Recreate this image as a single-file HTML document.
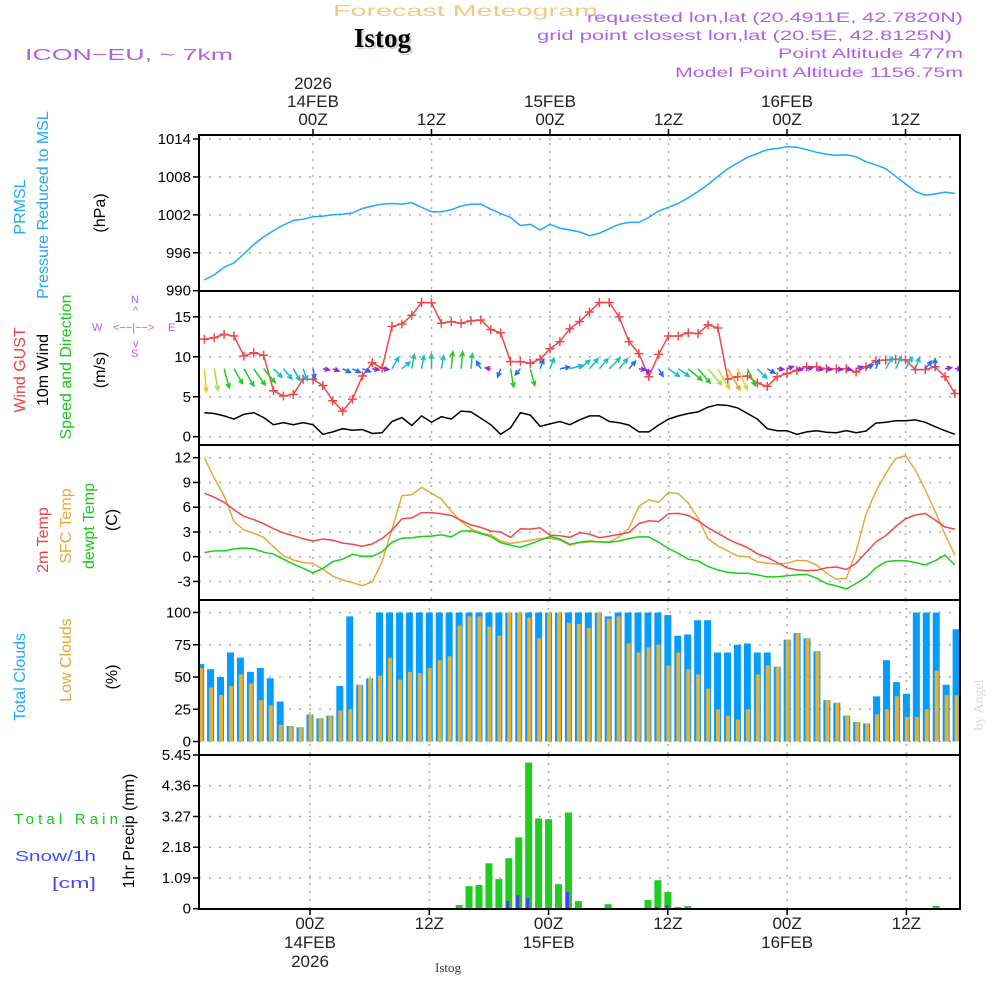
<!DOCTYPE html>
<html><head><meta charset="utf-8"><style>
html,body{margin:0;padding:0;background:#fff;width:1000px;height:1000px;overflow:hidden}
svg{display:block}
text{font-family:"Liberation Sans","DejaVu Sans",sans-serif}
</style></head><body>
<svg id="chart" width="1000" height="1000" viewBox="0 0 1000 1000" xmlns="http://www.w3.org/2000/svg">
<g id="hdr">
<text x="333" y="16" font-size="16" fill="#f5c880" textLength="265" lengthAdjust="spacingAndGlyphs">Forecast Meteogram</text>
<text x="356" y="49" font-size="27" font-weight="bold" fill="#c8dcc8" style="font-family:'Liberation Serif',serif">Istog</text>
<text x="354" y="47" font-size="27" font-weight="bold" fill="#000" style="font-family:'Liberation Serif',serif">Istog</text>
<text x="25" y="60" font-size="16" fill="#b060e8" textLength="208" lengthAdjust="spacingAndGlyphs">ICON−EU, ~ 7km</text>
<text x="587" y="22" font-size="14" fill="#b060e8" textLength="376" lengthAdjust="spacingAndGlyphs">requested lon,lat (20.4911E, 42.7820N)</text>
<text x="537" y="40" font-size="14" fill="#b060e8" textLength="415" lengthAdjust="spacingAndGlyphs">grid point closest lon,lat (20.5E, 42.8125N)</text>
<text x="778" y="58" font-size="14" fill="#b060e8" textLength="185" lengthAdjust="spacingAndGlyphs">Point Altitude 477m</text>
<text x="675" y="77" font-size="14" fill="#b060e8" textLength="288" lengthAdjust="spacingAndGlyphs">Model Point Altitude 1156.75m</text>
</g>
<g id="labels" font-size="16">
<text transform="translate(25,207) rotate(-90)" text-anchor="middle" fill="#1ea8ff">PRMSL</text>
<text transform="translate(48,205) rotate(-90)" text-anchor="middle" fill="#1ea8ff">Pressure Reduced to MSL</text>
<text transform="translate(105,213) rotate(-90)" text-anchor="middle" fill="#000">(hPa)</text>
<text transform="translate(25,370) rotate(-90)" text-anchor="middle" fill="#f04040">Wind GUST</text>
<text transform="translate(48,370) rotate(-90)" text-anchor="middle" fill="#000">10m Wind</text>
<text transform="translate(71,367) rotate(-90)" text-anchor="middle" fill="#18c818">Speed and Direction</text>
<text transform="translate(105,370) rotate(-90)" text-anchor="middle" fill="#000">(m/s)</text>
<g font-size="11" fill="#b060e8">
<text x="92" y="331">W</text><text x="113" y="331">&lt;−−|−−&gt;</text><text x="168" y="331">E</text>
<text x="131" y="303">N</text><text x="133" y="314">^</text><text x="133" y="347">v</text><text x="131" y="357">S</text>
</g>
<text transform="translate(48,540) rotate(-90)" text-anchor="middle" fill="#f04040">2m Temp</text>
<text transform="translate(71,526) rotate(-90)" text-anchor="middle" fill="#e8a838">SFC Temp</text>
<text transform="translate(94,526) rotate(-90)" text-anchor="middle" fill="#18c818">dewpt Temp</text>
<text transform="translate(117,520) rotate(-90)" text-anchor="middle" fill="#000">(C)</text>
<text transform="translate(25,677) rotate(-90)" text-anchor="middle" fill="#1ea8ff">Total Clouds</text>
<text transform="translate(71,660) rotate(-90)" text-anchor="middle" fill="#e8a838">Low Clouds</text>
<text transform="translate(117,677) rotate(-90)" text-anchor="middle" fill="#000">(%)</text>
<text transform="translate(983,705) rotate(-90)" text-anchor="middle" font-size="14" fill="#d8d8d8" style="font-family:'Liberation Serif',serif">by Angel</text>
<text x="14" y="824" font-size="15" fill="#18c818" textLength="104" lengthAdjust="spacing">Total   Rain</text>
<text x="15" y="861" font-size="15" fill="#4848ff" textLength="81" lengthAdjust="spacingAndGlyphs">Snow/1h</text>
<text x="52" y="888" font-size="15" fill="#4848ff" textLength="44" lengthAdjust="spacingAndGlyphs">[cm]</text>
<text transform="translate(134,831) rotate(-90)" text-anchor="middle" fill="#000">1hr Precip (mm)</text>
<text x="448" y="972" font-size="13" fill="#333" text-anchor="middle" style="font-family:'Liberation Serif',serif">Istog</text>
</g>
<g id="grid"></g>
<g id="marks"></g>
<g id="frames"></g>
<g id="ticks" font-size="15"></g>
</svg>
<script>
// ---- data ----
const pressure = [991.7,992.5,993.7,994.4,995.8,997.3,998.5,999.5,1000.4,1001.1,1001.3,1001.7,1001.8,1002.0,1002.1,1002.3,1003.0,1003.4,1003.7,1003.8,1003.7,1003.9,1003.2,1002.5,1002.5,1002.8,1003.4,1003.7,1003.7,1002.9,1002.2,1001.6,1000.3,1000.5,999.6,1000.5,999.9,999.6,999.3,998.7,999.1,999.8,1000.5,1000.8,1000.8,1001.6,1002.6,1003.2,1003.8,1004.7,1005.7,1006.8,1008.1,1009.3,1010.2,1011.1,1011.7,1012.3,1012.5,1012.8,1012.7,1012.3,1011.9,1011.6,1011.4,1011.5,1011.2,1010.4,1009.9,1009.3,1008.1,1006.9,1005.7,1005.1,1005.3,1005.6,1005.4];
const gust = [12.2,12.4,12.8,12.6,10.1,10.5,10.2,5.75,5.1,5.3,7.2,7.2,6.4,4.5,3.2,4.7,7.6,9.25,8.6,13.8,14.1,15.2,16.8,16.75,14.2,14.4,14.2,14.5,14.6,13.4,13.0,9.4,9.4,9.2,9.7,11.0,11.9,13.5,14.4,15.6,16.8,16.8,15.0,11.9,10.4,7.5,10.3,12.6,12.6,13.0,12.9,14.0,13.6,7.2,7.5,7.6,6.7,6.3,7.5,7.9,8.3,8.75,8.75,8.5,8.5,8.5,8.1,8.75,9.5,9.6,9.7,9.6,8.4,8.4,8.75,7.5,5.4];
const wind10 = [3.0,2.9,2.6,2.2,2.8,3.0,2.4,1.5,1.75,1.5,1.75,1.5,0.3,0.6,1.0,0.8,0.9,0.4,0.5,1.9,2.4,1.4,2.6,1.8,2.5,2.2,3.2,3.1,2.3,1.5,0.3,1.1,3.0,2.7,1.3,1.6,1.9,1.5,2.1,2.6,2.6,1.9,1.75,1.45,0.6,0.6,1.45,2.2,2.6,2.9,3.1,3.7,4.0,3.9,3.6,2.9,2.2,1.0,0.75,0.75,0.3,0.6,0.75,0.55,0.5,0.75,0.5,0.7,1.7,1.8,2.0,2.0,2.1,1.8,1.25,0.75,0.3];
const windDir = [175,170,165,150,150,145,140,135,140,150,160,170,100,110,115,115,110,100,95,30,50,10,10,0,10,5,5,5,330,280,200,170,220,165,20,20,80,75,50,40,40,45,40,40,100,200,150,125,125,130,140,140,150,150,155,155,135,120,95,70,100,80,100,100,100,100,70,60,20,30,25,30,20,40,0,80,90];
const windSpd = [3.5,3.3,3.0,2.6,3.0,3.0,2.7,1.8,2.0,2.0,1.8,1.5,1.0,1.0,1.3,1.3,1.3,1.0,1.0,2.0,1.6,2.2,2.0,2.2,2.0,2.6,2.6,2.3,1.3,0.8,1.3,2.8,1.2,2.6,1.5,1.7,1.5,2.0,2.0,2.0,2.0,2.3,2.0,1.5,1.0,0.8,1.3,2.0,2.0,2.7,2.8,3.2,3.5,3.7,3.5,2.8,2.0,1.3,1.0,1.0,0.9,0.9,0.9,0.8,0.9,0.8,1.0,1.2,1.5,2.0,2.0,2.0,1.8,1.5,1.5,1.0,1.0];
const temp2m = [7.7,7.2,6.6,5.7,4.9,4.5,4.0,3.4,2.9,2.55,2.2,1.9,2.15,2.0,1.65,1.5,1.25,1.55,2.2,3.2,4.6,4.7,5.35,5.35,5.2,5.0,4.4,3.85,3.55,3.1,3.0,2.35,3.4,3.35,3.5,2.6,2.55,2.35,2.9,2.75,2.3,2.5,2.7,2.95,4.0,4.35,4.25,5.2,5.25,5.0,4.35,3.5,2.85,2.15,1.6,1.1,0.35,-0.1,-0.7,-1.35,-1.6,-1.7,-1.65,-1.35,-1.25,-1.55,-0.8,0.5,1.8,2.55,3.65,4.6,5.05,5.25,4.45,3.6,3.35];
const tempSfc = [12.0,9.5,7.4,4.25,3.25,2.85,2.35,1.2,0.1,-0.4,-0.7,-0.8,-1.5,-2.35,-2.85,-3.15,-3.5,-3.05,-0.6,3.35,7.4,7.5,8.4,7.7,7.0,5.5,4.25,3.4,2.85,2.65,1.9,1.6,1.8,2.0,2.2,2.25,2.0,1.4,1.7,1.8,1.8,1.8,2.4,3.45,6.1,6.9,6.6,7.8,7.65,6.5,4.65,2.2,1.3,0.7,0.1,0,-0.6,-0.8,-0.9,-0.8,-0.45,-0.5,-1.0,-2.0,-2.75,-2.6,0.6,5.15,7.9,10.1,11.9,12.25,10.5,8.1,5.5,2.7,0.2];
const dewpt = [0.5,0.7,0.7,0.95,1.05,0.95,0.55,0.3,-0.3,-0.9,-1.4,-1.95,-1.4,-0.6,-0.3,0.3,0.05,0.05,0.6,1.75,2.25,2.3,2.45,2.5,2.65,2.4,3.1,3.15,2.8,2.45,1.7,1.4,1.15,1.55,2.0,2.45,2.15,1.5,1.75,1.9,1.8,1.75,1.9,2.2,2.4,2.4,1.75,1.0,0.4,-0.3,-0.5,-1.2,-1.6,-1.9,-2.0,-2.0,-2.2,-2.45,-2.45,-2.3,-2.2,-2.15,-2.6,-3.25,-3.55,-3.9,-3.25,-2.5,-1.35,-0.6,-0.5,-0.5,-0.7,-1.0,-0.5,0.2,-1.0];
const cloudTotal = [
  60,56,50,69,65,54,57,49,31,12,11,21,
  18,20,43,97,44,49,
  100,100,100,100,100,100,100,100,100,100,100,
  100,100,100,100,100,100,100,100,100,100,100,
  100,97,100,100,100,100,100,98,82,83,94,94,69,69,75,76,69,69,58,79,84,80,70,32,30,20,15,14,35,63,46,37,100,100,100,44,87];
const cloudLow = [57,42,36,43,52,45,32,28,13,12,11,21,18,20,24,25,44,49,51,65,48,54,53,57,63,66,90,97,97,89,82,100,100,96,80,100,100,92,91,88,100,95,97,76,69,73,75,59,69,56,52,41,25,20,17,25,52,59,58,79,84,80,70,32,30,20,15,14,21,25,35,19,19,25,55,36,36];
const precipHours = [15,16,17,18,19,20,21,22,23,24,25,26,27,30,34,35,36,37,38,63];
const rain = [0.13,0.80,0.84,1.61,1.05,1.79,2.53,5.18,3.20,3.17,0.87,3.41,0.27,0.16,0.31,1.01,0.59,0.06,0.09,0.10];
const snow = [0,0,0,0,0,0.27,0.48,0.38,0,0,0,0.59,0,0,0,0.06,0.13,0,0.02,0];
const pTicks = [1014,1008,1002,996,990];
const wTicks = [15,10,5,0];
const tTicks = [12,9,6,3,0,-3];
const cTicks = [100,75,50,25,0];
const rTicks = ["5.45","4.36","3.27","2.18","1.09","0"];
const startHour = -11;

// ---- axes ----
const L = 199, R = 960;
const Xu = h => 313 + 9.875 * h;
const Xl = h => 310 + 9.94 * h;
const Yp = v => 139 + (1014 - v) * 6.32;
const Yw = v => 436.7 - 7.99 * v;
const Yt = v => 556.7 - 8.25 * v;
const Yc = v => 741.5 - 1.29 * v;
const Yr = v => 908.7 - 28.2 * v;
const panels = [[135,291],[291,445],[445,600],[600,755],[755,909]];
const NS = "http://www.w3.org/2000/svg";
function mk(tag, attrs, parent) {
  const e = document.createElementNS(NS, tag);
  for (const k in attrs) e.setAttribute(k, attrs[k]);
  parent.appendChild(e);
  return e;
}
const grid = document.getElementById('grid');
const marks = document.getElementById('marks');
const frames = document.getElementById('frames');
const ticks = document.getElementById('ticks');
const clip = mk('clipPath', {id: 'plotclip'}, document.getElementById('chart'));
mk('rect', {x: L, y: 135, width: R - L, height: 774}, clip);
marks.setAttribute('clip-path', 'url(#plotclip)');

function hgrid(y) {
  const l = mk('line', {x1: L, x2: R, y1: y, y2: y, stroke: '#aaa', 'stroke-width': 1.5, 'stroke-dasharray': '2,8'}, grid);
  
  
}
function vgrid(x, y1, y2) {
  const l = mk('line', {x1: x, x2: x, y1: y1, y2: y2, stroke: '#aaa', 'stroke-width': 1.5, 'stroke-dasharray': '2,6'}, grid);
  
  
}
function ylabels(vals, labels, Y) {
  vals.forEach((v, i) => {
    const y = Y(v);
    const t = mk('line', {x1: L - 6, x2: L, y1: y, y2: y, stroke: '#000', 'stroke-width': 1.5}, ticks);
    
    
    const tx = mk('text', {x: L - 8, y: y + 5, 'text-anchor': 'end'}, ticks);
    tx.textContent = labels[i];
    
    
  });
}
[0, 12, 24, 36, 48, 60].forEach(h => {
  vgrid(Xu(h), 135, 445); vgrid(Xu(h), 445, 600);
  vgrid(Xl(h), 600, 755); vgrid(Xl(h), 755, 909);
});
pTicks.forEach(v => hgrid(Yp(v)));
wTicks.forEach(v => hgrid(Yw(v)));
tTicks.forEach(v => hgrid(Yt(v)));
cTicks.forEach(v => hgrid(Yc(v)));
rTicks.forEach(v => hgrid(Yr(+v)));
ylabels(pTicks, pTicks, Yp);
ylabels(wTicks, wTicks, Yw);
ylabels(tTicks, tTicks, Yt);
ylabels(cTicks, cTicks, Yc);
ylabels(rTicks.map(Number), rTicks, Yr);

function line(arr, Y, color, name, w) {
  const pts = arr.map((v, i) => Xu(startHour + i).toFixed(1) + ',' + Y(v).toFixed(1)).join(' ');
  const p = mk('polyline', {points: pts, fill: 'none', stroke: color, 'stroke-width': w || 1.5}, marks);
  
  
}
line(pressure, Yp, '#1ea8ff', 'pressure-line');
line(wind10, Yw, '#000', 'wind-speed-line');
line(gust, Yw, '#f04848', 'gust-line');
gust.forEach((v, i) => {
  const x = Xu(startHour + i), y = Yw(v);
  const g = mk('path', {d: `M${x-4.5},${y}H${x+4.5}M${x},${y-4.5}V${y+4.5}`, stroke: '#f04848', 'stroke-width': 1.5}, marks);
  
  
});
function windColor(s) {
  if (s < 1.1) return '#9028e0';
  if (s < 1.6) return '#1e6cff';
  if (s < 2.1) return '#18b8d8';
  if (s < 2.5) return '#18c890';
  if (s < 3.1) return '#20cc20';
  if (s < 3.4) return '#a0e040';
  if (s < 3.6) return '#e0d020';
  return '#f0a020';
}
windDir.forEach((d, i) => {
  const s = windSpd[i], len = s * 6.6, c = windColor(s);
  const x0 = Xu(startHour + i), y0 = Yw(8.5);
  const a = d * Math.PI / 180;
  const x1 = x0 + Math.sin(a) * len, y1 = y0 - Math.cos(a) * len;
  const hl = 5, ha = 0.45;
  const b1x = x1 - Math.sin(a - ha) * hl, b1y = y1 + Math.cos(a - ha) * hl;
  const b2x = x1 - Math.sin(a + ha) * hl, b2y = y1 + Math.cos(a + ha) * hl;
  const p = mk('path', {d: `M${x0},${y0}L${x1},${y1}M${b1x},${b1y}L${x1},${y1}L${b2x},${b2y}`, stroke: c, 'stroke-width': 1.5, fill: 'none'}, marks);
  
  
});
line(tempSfc, Yt, '#e8a838', 'sfc-temp-line');
line(temp2m, Yt, '#f04848', 'temp-2m-line');
line(dewpt, Yt, '#18d018', 'dewpt-line');
cloudTotal.forEach((v, i) => {
  const x = Xl(startHour + i);
  const b = mk('rect', {x: x - 3.5, y: Yc(v), width: 7, height: Yc(0) - Yc(v), fill: '#049dff'}, marks);
  
  
});
cloudLow.forEach((lv, i) => {
  const x = Xl(startHour + i);
  const o = mk('rect', {x: x - 1.5, y: Yc(lv), width: 4, height: Yc(0) - Yc(lv), fill: '#e8b030'}, marks);
  
  
});
precipHours.forEach((h, i) => {
  const x = Xl(h);
  const b = mk('rect', {x: x - 3.5, y: Yr(rain[i]), width: 7, height: Yr(0) - Yr(rain[i]), fill: '#20cc20'}, marks);
  
  
  if (snow[i] > 0) {
    const s = mk('rect', {x: x - 2.5, y: Yr(snow[i]), width: 3, height: Yr(0) - Yr(snow[i]), fill: '#4040ff'}, marks);
    
    
  }
});
mk('line', {x1: L, x2: R, y1: 909, y2: 909, stroke: '#000', 'stroke-width': 2, 'stroke-dasharray': '12,3'}, marks);
panels.forEach(([a, b]) => {
  const r = mk('rect', {x: L, y: a, width: R - L, height: b - a, fill: 'none', stroke: '#000', 'stroke-width': 2}, frames);
  
  
});
const topLbl = [[0, ['2026', '14FEB', '00Z']], [12, ['12Z']], [24, ['15FEB', '00Z']], [36, ['12Z']], [48, ['16FEB', '00Z']], [60, ['12Z']]];
topLbl.forEach(([h, ls]) => {
  const x = Xu(h);
  mk('line', {x1: x, x2: x, y1: 129, y2: 135, stroke: '#000', 'stroke-width': 1.5}, ticks);
  ls.forEach((s, k) => {
    const t = mk('text', {x: x, y: 127 - (ls.length - 1 - k) * 18 - 2, 'text-anchor': 'middle', 'font-size': 17, fill: '#222'}, ticks);
    t.textContent = s;
    
    
  });
});
const botLbl = [[0, ['00Z', '14FEB', '2026']], [12, ['12Z']], [24, ['00Z', '15FEB']], [36, ['12Z']], [48, ['00Z', '16FEB']], [60, ['12Z']]];
botLbl.forEach(([h, ls]) => {
  const x = Xl(h);
  mk('line', {x1: x, x2: x, y1: 909, y2: 915, stroke: '#000', 'stroke-width': 1.5}, ticks);
  ls.forEach((s, k) => {
    const t = mk('text', {x: x, y: 929 + k * 19, 'text-anchor': 'middle', 'font-size': 17, fill: '#222'}, ticks);
    t.textContent = s;
    
    
  });
});
</script>
</body></html>
